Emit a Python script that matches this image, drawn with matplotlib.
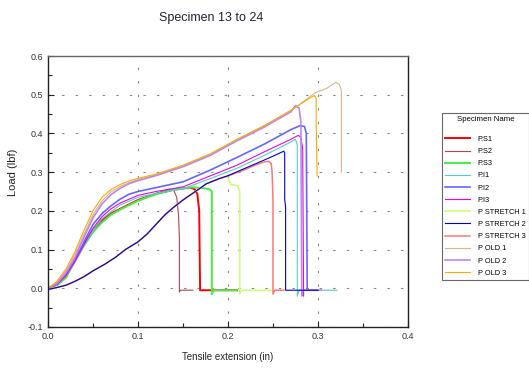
import matplotlib
matplotlib.use("Agg")
import matplotlib.pyplot as plt

plt.rcParams["font.family"] = ["Liberation Sans", "DejaVu Sans"]

# ---- data (extension in, load lbf) ----
s1_x = [0, 0.01, 0.02, 0.03, 0.04, 0.05, 0.06, 0.07, 0.08, 0.10, 0.12, 0.14, 0.158, 0.163, 0.166, 0.168, 0.169, 0.171, 0.21]
s1_y = [0, 0.010, 0.030, 0.075, 0.115, 0.150, 0.175, 0.193, 0.205, 0.228, 0.244, 0.255, 0.260, 0.256, 0.243, 0.200, -0.005, -0.005, -0.005]

s2_x = [0, 0.01, 0.02, 0.03, 0.04, 0.05, 0.06, 0.07, 0.08, 0.10, 0.12, 0.135, 0.140, 0.143, 0.145, 0.146, 0.146, 0.147, 0.161]
s2_y = [0, 0.010, 0.030, 0.073, 0.113, 0.148, 0.173, 0.191, 0.204, 0.227, 0.245, 0.256, 0.252, 0.235, 0.190, 0.130, -0.010, -0.005, -0.005]

s3_x = [0, 0.01, 0.02, 0.03, 0.04, 0.05, 0.06, 0.07, 0.08, 0.10, 0.12, 0.14, 0.16, 0.175, 0.180, 0.182, 0.182, 0.184, 0.21]
s3_y = [0, 0.008, 0.027, 0.070, 0.110, 0.145, 0.170, 0.190, 0.203, 0.226, 0.243, 0.255, 0.261, 0.258, 0.255, 0.250, -0.015, -0.005, -0.005]

i1_x = [0, 0.01, 0.02, 0.03, 0.04, 0.05, 0.06, 0.08, 0.10, 0.12, 0.15, 0.18, 0.21, 0.24, 0.27, 0.275, 0.277, 0.277, 0.279, 0.321]
i1_y = [0, 0.010, 0.032, 0.068, 0.110, 0.150, 0.180, 0.215, 0.235, 0.245, 0.257, 0.283, 0.310, 0.343, 0.378, 0.385, 0.370, -0.020, -0.005, -0.005]

i2_x = [0, 0.01, 0.02, 0.03, 0.04, 0.05, 0.06, 0.07, 0.08, 0.09, 0.10, 0.12, 0.15, 0.18, 0.21, 0.24, 0.27, 0.280, 0.285, 0.287, 0.288, 0.290, 0.300]
i2_y = [0, 0.012, 0.035, 0.072, 0.120, 0.165, 0.193, 0.213, 0.230, 0.243, 0.250, 0.260, 0.275, 0.305, 0.338, 0.372, 0.410, 0.420, 0.418, 0.400, 0.000, -0.005, -0.005]

i3_x = [0, 0.01, 0.02, 0.03, 0.04, 0.05, 0.06, 0.07, 0.08, 0.10, 0.12, 0.15, 0.18, 0.21, 0.24, 0.27, 0.278, 0.281, 0.283, 0.284]
i3_y = [0, 0.010, 0.033, 0.070, 0.113, 0.155, 0.185, 0.205, 0.220, 0.240, 0.250, 0.262, 0.290, 0.318, 0.352, 0.385, 0.395, 0.390, 0.360, -0.020]

st1_x = [0, 0.01, 0.02, 0.03, 0.04, 0.05, 0.063, 0.075, 0.086, 0.10, 0.11, 0.12, 0.13, 0.14, 0.15, 0.165, 0.176, 0.19, 0.199, 0.201, 0.203, 0.211, 0.213, 0.213, 0.215, 0.25]
st1_y = [-0.003, 0.002, 0.008, 0.018, 0.030, 0.045, 0.062, 0.080, 0.100, 0.120, 0.140, 0.165, 0.190, 0.210, 0.228, 0.252, 0.270, 0.283, 0.288, 0.280, 0.268, 0.265, 0.250, -0.015, -0.005, -0.005]

st2_x = [0, 0.01, 0.02, 0.03, 0.04, 0.05, 0.063, 0.075, 0.086, 0.10, 0.11, 0.12, 0.13, 0.14, 0.15, 0.165, 0.176, 0.19, 0.20, 0.217, 0.23, 0.245, 0.26, 0.262, 0.263, 0.263, 0.264, 0.264, 0.30]
st2_y = [-0.003, 0.002, 0.008, 0.018, 0.030, 0.045, 0.062, 0.080, 0.100, 0.120, 0.140, 0.165, 0.190, 0.210, 0.228, 0.252, 0.270, 0.283, 0.291, 0.308, 0.321, 0.336, 0.352, 0.354, 0.350, 0.230, 0.210, -0.005, -0.005]

st3_x = [0, 0.01, 0.02, 0.03, 0.04, 0.05, 0.063, 0.075, 0.086, 0.10, 0.11, 0.12, 0.13, 0.14, 0.15, 0.165, 0.176, 0.19, 0.20, 0.217, 0.23, 0.24, 0.245, 0.248, 0.249, 0.250, 0.250, 0.252, 0.262]
st3_y = [-0.003, 0.002, 0.008, 0.018, 0.030, 0.045, 0.062, 0.080, 0.100, 0.120, 0.140, 0.165, 0.190, 0.210, 0.228, 0.252, 0.270, 0.283, 0.290, 0.305, 0.318, 0.326, 0.328, 0.322, 0.300, 0.225, -0.015, -0.005, -0.005]

old1_x = [0, 0.01, 0.02, 0.03, 0.04, 0.05, 0.06, 0.07, 0.08, 0.09, 0.10, 0.12, 0.15, 0.18, 0.21, 0.24, 0.27, 0.297, 0.31, 0.320, 0.324, 0.326, 0.326]
old1_y = [0, 0.015, 0.045, 0.088, 0.140, 0.190, 0.226, 0.249, 0.263, 0.273, 0.281, 0.293, 0.316, 0.345, 0.383, 0.419, 0.459, 0.505, 0.517, 0.532, 0.526, 0.510, 0.300]

old2_x = [0, 0.01, 0.02, 0.03, 0.04, 0.05, 0.06, 0.07, 0.08, 0.09, 0.10, 0.12, 0.15, 0.18, 0.21, 0.24, 0.27, 0.275, 0.279, 0.281, 0.282, 0.283, 0.304]
old2_y = [0, 0.013, 0.040, 0.080, 0.132, 0.182, 0.218, 0.242, 0.258, 0.270, 0.278, 0.291, 0.314, 0.343, 0.381, 0.416, 0.456, 0.472, 0.465, 0.430, -0.020, -0.005, -0.005]

old3_x = [0, 0.01, 0.02, 0.03, 0.04, 0.05, 0.06, 0.07, 0.08, 0.09, 0.10, 0.12, 0.15, 0.18, 0.21, 0.24, 0.27, 0.29, 0.296, 0.298, 0.298, 0.299]
old3_y = [0, 0.018, 0.050, 0.095, 0.150, 0.200, 0.235, 0.255, 0.268, 0.277, 0.284, 0.295, 0.318, 0.347, 0.385, 0.420, 0.460, 0.490, 0.498, 0.490, 0.420, 0.290]

names = ["P.S1", "P.S2", "P.S3", "P.I1", "P.I2", "P.I3",
         "P STRETCH 1", "P STRETCH 2", "P STRETCH 3", "P OLD 1", "P OLD 2", "P OLD 3"]
xs = [s1_x, s2_x, s3_x, i1_x, i2_x, i3_x, st1_x, st2_x, st3_x, old1_x, old2_x, old3_x]
ys = [s1_y, s2_y, s3_y, i1_y, i2_y, i3_y, st1_y, st2_y, st3_y, old1_y, old2_y, old3_y]
colors = ["#ff0000", "#b04848", "#44ee44", "#55cccc", "#6666ff", "#ee00ee",
          "#ccff77", "#0000cc", "#ff7777", "#d8b48c", "#bb88ee", "#ffaa00"]
widths = [1.4, 0.8, 1.4, 0.8, 1.2, 0.8, 1.2, 0.8, 1.1, 0.8, 1.2, 0.8]
zorders = [2, 2, 2, 2, 2, 2, 2, 3, 2, 2, 2, 2]

fig = plt.figure(figsize=(5.29, 3.68), dpi=100)
ax = fig.add_axes([48 / 529, 41 / 368, 360 / 529, 271 / 368])

for x, y, c, w, z, n in zip(xs, ys, colors, widths, zorders, names):
    ax.plot(x, y, color=c, lw=w, zorder=z, label=n)

ax.set_xlim(0, 0.4)
ax.set_ylim(-0.1, 0.6)
ax.set_xticks([0, 0.1, 0.2, 0.3, 0.4])
ax.set_xticklabels(["0.0", "0.1", "0.2", "0.3", "0.4"])
ax.set_yticks([-0.1, 0, 0.1, 0.2, 0.3, 0.4, 0.5, 0.6])
ax.set_yticklabels(["-0.1", "0.0", "0.1", "0.2", "0.3", "0.4", "0.5", "0.6"])
ax.set_xticks([0.05, 0.15, 0.25, 0.35], minor=True)
ax.set_yticks([-0.05, 0.05, 0.15, 0.25, 0.35, 0.45, 0.55], minor=True)
ax.tick_params(which="both", direction="in", labelsize=6.5, labelcolor="#333333",
               color="#222222", width=0.8)
ax.tick_params(which="major", length=4)
ax.tick_params(which="minor", length=3)
ax.grid(True, which="major", color="#888888", lw=0.8, linestyle=(0, (2.2, 10)))
for sp in ax.spines.values():
    sp.set_color("#222222")
    sp.set_linewidth(1.0)
ax.spines["top"].set_color("#666666")

ax.set_xlabel("Tensile extension (in)", fontsize=7, color="#222222", labelpad=8)
ax.set_ylabel("Load (lbf)", fontsize=8, color="#222222")
ax.yaxis.set_label_coords(-30 / 360, 0.57)
fig.text(211 / 529, 1 - 18 / 368, "Specimen 13 to 24", fontsize=9,
         color="#222233", ha="center", va="center")

leg = ax.legend(loc="upper left", bbox_to_anchor=(442 / 529, 1 - 113 / 368),
                bbox_transform=fig.transFigure, borderaxespad=0,
                title="Specimen Name", fontsize=5.3, title_fontsize=5.6,
                frameon=True, fancybox=False, handlelength=3.4,
                handletextpad=1.0, labelspacing=0.68, borderpad=0.45)
leg._legend_box.sep = 9
leg.get_frame().set_edgecolor("#444444")
leg.get_frame().set_linewidth(0.8)

fig.savefig("out.png", dpi=100)
